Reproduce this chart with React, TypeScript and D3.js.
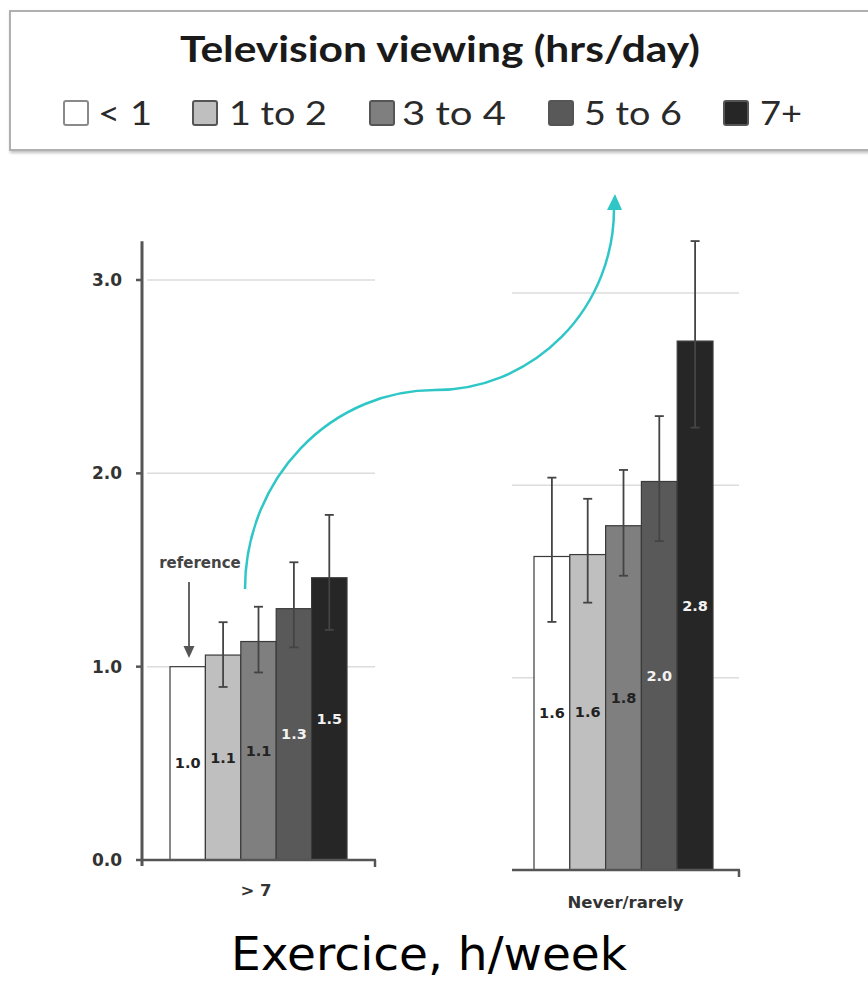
import React from "react";
import * as d3 from "d3";

const groups = ["< 1", "1 to 2", "3 to 4", "5 to 6", "7+"];
const fills = ["#ffffff", "#bfbfbf", "#7f7f7f", "#595959", "#262626"];
const labelColors = ["#222", "#222", "#222", "#f2f2f2", "#f2f2f2"];

// Left panel: exercise > 7 h/week
const leftValues = [1.0, 1.06, 1.13, 1.3, 1.46];
const leftLow = [null, 0.895, 0.97, 1.1, 1.19];
const leftHigh = [null, 1.23, 1.31, 1.54, 1.785];
const leftLabels = ["1.0", "1.1", "1.1", "1.3", "1.5"];

// Right panel: never/rarely
const rightValues = [1.63, 1.64, 1.79, 2.02, 2.75];
const rightLow = [1.29, 1.39, 1.53, 1.71, 2.3];
const rightHigh = [2.04, 1.93, 2.08, 2.36, 3.27];
const rightLabels = ["1.6", "1.6", "1.8", "2.0", "2.8"];

const yTicks = [0, 1, 2, 3];
const legendTitle = "Television viewing (hrs/day)";
const axisTitle = "Exercice, h/week";

const W = 868;
const H = 982;

const legendSquareX = [64, 193, 370, 549, 724];
const legendTextX = [98, 229, 402, 584, 760];
const legendTextW = [54, 98, 104, 98, 42];

type Panel = {
  values: number[];
  low: (number | null)[];
  high: (number | null)[];
  labels: string[];
  x0: number;
  x1: number;
  yBottom: number;
  yTop3: number;
  gridX0: number;
  gridX1: number;
  category: string;
  catY: number;
};

function PanelView({ p, showAxis }: { p: Panel; showAxis: boolean }) {
  const y = d3.scaleLinear().domain([0, 3]).range([p.yBottom, p.yTop3]);
  const x = d3.scaleBand<string>().domain(groups).range([p.x0, p.x1]).padding(0);
  const bw = x.bandwidth();
  const fmt = d3.format(".1f");
  return (
    <g>
      {yTicks
        .filter((t) => t > 0)
        .map((t) => (
          <line key={"g" + t} x1={p.gridX0} x2={p.gridX1} y1={y(t)} y2={y(t)} stroke="#dcdcdc" strokeWidth={1.5} />
        ))}
      {groups.map((g, i) => (
        <rect
          key={"b" + g}
          x={x(g)!}
          y={y(p.values[i])}
          width={bw}
          height={y(0) - y(p.values[i])}
          fill={fills[i]}
          stroke="#3a3a3a"
          strokeWidth={1.2}
        />
      ))}
      {groups.map((g, i) => {
        const lo = p.low[i];
        const hi = p.high[i];
        if (lo == null || hi == null) return null;
        const cx = x(g)! + bw / 2;
        return (
          <g key={"e" + g} stroke="#444" strokeWidth={1.8}>
            <line x1={cx} x2={cx} y1={y(lo)} y2={y(hi)} />
            <line x1={cx - 4.5} x2={cx + 4.5} y1={y(lo)} y2={y(lo)} />
            <line x1={cx - 4.5} x2={cx + 4.5} y1={y(hi)} y2={y(hi)} />
          </g>
        );
      })}
      {groups.map((g, i) => (
        <text
          key={"l" + g}
          x={x(g)! + bw / 2}
          y={(y(p.values[i]) + y(0)) / 2}
          dy="0.35em"
          textAnchor="middle"
          fontFamily="DejaVu Sans"
          fontWeight="bold"
          fontSize={14.5}
          fill={labelColors[i]}
        >
          {p.labels[i] ?? fmt(p.values[i])}
        </text>
      ))}
      {/* x axis */}
      <line x1={p.gridX0 - (showAxis ? 6 : 0)} x2={p.gridX1 + 1} y1={y(0)} y2={y(0)} stroke="#555" strokeWidth={2.5} />
      <line x1={p.gridX1} x2={p.gridX1} y1={y(0)} y2={y(0) + 7} stroke="#555" strokeWidth={2.5} />
      <text
        x={(p.gridX0 + p.gridX1) / 2 + (showAxis ? -5 : 0)}
        y={p.catY}
        textAnchor="middle"
        fontFamily="DejaVu Sans"
        fontWeight="bold"
        fontSize={16.5}
        fill="#333"
      >
        {p.category}
      </text>
    </g>
  );
}

export default function App() {
  const leftPanel: Panel = {
    values: leftValues,
    low: leftLow,
    high: leftHigh,
    labels: leftLabels,
    x0: 170,
    x1: 347,
    yBottom: 860,
    yTop3: 280,
    gridX0: 147,
    gridX1: 375,
    category: "> 7",
    catY: 896,
  };
  const rightPanel: Panel = {
    values: rightValues,
    low: rightLow,
    high: rightHigh,
    labels: rightLabels,
    x0: 534,
    x1: 713,
    yBottom: 870,
    yTop3: 293,
    gridX0: 512,
    gridX1: 739,
    category: "Never/rarely",
    catY: 908,
  };
  const yL = d3.scaleLinear().domain([0, 3]).range([860, 280]);
  const axisX = 142;

  return (
    <svg
      width={W}
      height={H}
      viewBox={`0 0 ${W} ${H}`}
      style={{ position: "absolute", left: 0, top: 0, background: "#fff" }}
    >
      <defs>
        <filter id="sh" x="-5%" y="-10%" width="110%" height="130%">
          <feDropShadow dx="1" dy="2" stdDeviation="1.5" floodColor="#000" floodOpacity="0.25" />
        </filter>
      </defs>
      <rect x={0} y={0} width={W} height={H} fill="#fff" />
      {/* Legend box */}
      <rect x={10} y={11} width={880} height={139} fill="#fff" stroke="#b0b0b0" strokeWidth={2} filter="url(#sh)" />
      <text
        x={440}
        y={62}
        textAnchor="middle"
        fontFamily="Lato"
        fontWeight="bold"
        fontSize={36}
        fill="#1a1a1a"
        textLength={520}
        lengthAdjust="spacingAndGlyphs"
      >
        {legendTitle}
      </text>
      {groups.map((g, i) => (
        <g key={"lg" + g}>
          <rect
            x={legendSquareX[i]}
            y={101}
            width={24}
            height={24}
            fill={fills[i]}
            stroke={i === 0 ? "#8a8a8a" : "#555"}
            strokeWidth={2}
            rx={2}
          />
          <text
            x={legendTextX[i]}
            y={125}
            fontFamily="Lato"
            fontSize={33}
            fill="#2a2a2a"
            textLength={legendTextW[i]}
            lengthAdjust="spacingAndGlyphs"
          >
            {g}
          </text>
        </g>
      ))}

      {/* Left y axis */}
      <line x1={axisX} x2={axisX} y1={yL(3.2)} y2={yL(0) + 6} stroke="#555" strokeWidth={3} />
      {yTicks.map((t) => (
        <g key={"t" + t}>
          <line x1={axisX - 6} x2={axisX} y1={yL(t)} y2={yL(t)} stroke="#555" strokeWidth={2.5} />
          <text
            x={122}
            y={yL(t)}
            dy="0.35em"
            textAnchor="end"
            fontFamily="DejaVu Sans"
            fontWeight="bold"
            fontSize={17}
            fill="#333"
          >
            {d3.format(".1f")(t)}
          </text>
        </g>
      ))}

      <PanelView p={leftPanel} showAxis={true} />
      <PanelView p={rightPanel} showAxis={false} />

      {/* reference annotation */}
      <text x={200} y={568} textAnchor="middle" fontFamily="DejaVu Sans" fontWeight="bold" fontSize={15} fill="#444">
        reference
      </text>
      <line x1={189} x2={189} y1={582} y2={648} stroke="#555" strokeWidth={1.8} />
      <path d="M183.5,646 L194.5,646 L189,658 Z" fill="#555" />

      {/* teal arrow */}
      <path
        d="M245,589 A190,199 0 0 1 435,390 A179,181 0 0 0 614,209"
        fill="none"
        stroke="#2ec6c6"
        strokeWidth={2.5}
      />
      <path d="M607,210 L622,210 L615,194 Z" fill="#2ec6c6" />

      <text x={429} y={970} textAnchor="middle" fontFamily="DejaVu Sans" fontSize={47} fill="#000">
        {axisTitle}
      </text>
    </svg>
  );
}
